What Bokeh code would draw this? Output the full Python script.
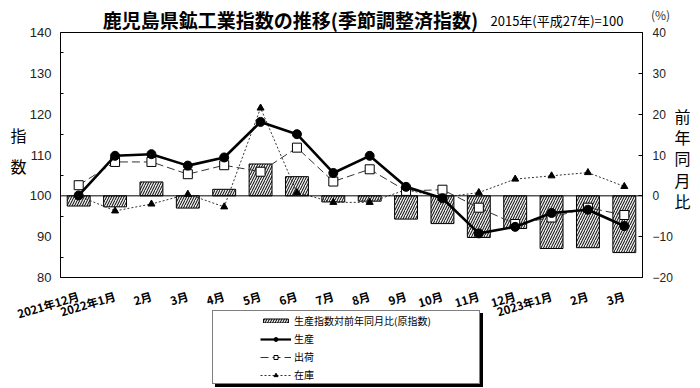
from bokeh.plotting import figure
from bokeh.layouts import column
from bokeh.models import (Range1d, LinearAxis, FixedTicker, Span, Legend,
                          LegendItem, Label)
from bokeh.embed import file_html
from bokeh.resources import INLINE

# ---------------- data ----------------
months = ["2021年12月", "2022年1月", "2月", "3月", "4月", "5月", "6月", "7月",
          "8月", "9月", "10月", "11月", "12月", "2023年1月", "2月", "3月"]
production = [100.1, 109.8, 110.2, 107.4, 109.4, 118.1, 115.1, 105.6,
              109.8, 102.2, 99.4, 90.8, 92.4, 95.8, 96.6, 92.6]
shipments = [102.6, 108.3, 108.3, 105.3, 107.5, 105.9, 111.8, 103.5,
             106.5, 101.2, 101.5, 97.1, 93.1, 94.7, 97.1, 95.3]
inventory = [100.0, 96.3, 98.0, 100.4, 97.3, 121.5, 100.8, 98.4,
             98.4, 101.5, 99.6, 100.8, 104.1, 104.9, 105.7, 102.3]
yoy_change = [-2.5, -2.7, 3.4, -3.0, 1.6, 7.8, 4.7, -1.5,
              -1.3, -5.7, -6.8, -10.2, -8.0, -12.9, -12.7, -13.9]
left_ticks = [80, 90, 100, 110, 120, 130, 140]
left_minor = [85, 95, 105, 115, 125, 135]
right_ticks = [-20, -10, 0, 10, 20, 30, 40]

title_text = "鹿児島県鉱工業指数の推移(季節調整済指数)"
base_text = "2015年(平成27年)=100"
pct_text = "(%)"
left_title = "指\n数"
right_title = "前\n年\n同\n月\n比"
names = ["生産指数対前年同月比(原指数)", "生産", "出荷", "在庫"]

FONT = "Noto Sans CJK JP"
W, H = 700, 388
x = list(range(len(months)))

# ---------------- main chart ----------------
p = figure(width=W, height=H, output_backend="svg", toolbar_location=None,
           x_range=Range1d(-0.5, len(months) - 0.5), y_range=Range1d(80, 140),
           min_border_left=60, min_border_right=58, min_border_top=32,
           min_border_bottom=111)
p.title.visible = False
p.grid.visible = False
p.outline_line_color = "black"
p.outline_line_width = 1

ya = p.yaxis[0]
ya.ticker = FixedTicker(ticks=left_ticks, minor_ticks=left_minor)
ya.major_tick_in = 0
ya.major_tick_out = 0
ya.minor_tick_in = 3
ya.minor_tick_out = 0
ya.major_label_text_font = "Liberation Sans"
ya.major_label_text_font_size = "13px"
ya.major_label_text_color = "#222222"
ya.major_label_standoff = 9
ya.axis_line_color = "black"

p.extra_y_ranges = {"pct": Range1d(-20, 40)}
ra = LinearAxis(y_range_name="pct", ticker=FixedTicker(ticks=right_ticks))
ra.major_tick_in = 4
ra.major_tick_out = 0
ra.minor_tick_in = 0
ra.minor_tick_out = 0
ra.major_label_text_font = "Liberation Sans"
ra.major_label_text_font_size = "12px"
ra.major_label_text_color = "#222222"
ra.major_label_standoff = 10
ra.axis_line_color = "black"
p.add_layout(ra, "right")

xa = p.xaxis[0]
xa.ticker = FixedTicker(ticks=x)
xa.major_label_overrides = {i: m for i, m in zip(x, months)}
xa.major_label_orientation = 0.29
xa.major_tick_in = 0
xa.major_tick_out = 0
xa.minor_tick_in = 0
xa.minor_tick_out = 0
xa.major_label_text_font = FONT
xa.major_label_text_font_size = "11.5px"
xa.major_label_text_font_style = "bold"
xa.major_label_text_color = "black"
xa.major_label_standoff = 18
xa.axis_line_color = "black"

BAR = dict(fill_color="#eeeeee", line_color="black", line_width=1,
           hatch_pattern="/", hatch_color="black", hatch_scale=5,
           hatch_weight=1)
INV_L = dict(line_color="#333333", line_width=1, line_dash="2 2")
INV_M = dict(marker="triangle", size=7, fill_color="black", line_color="black")
SHP_L = dict(line_color="#333333", line_width=1, line_dash="8 4")
SHP_M = dict(marker="square", size=9, fill_color="white", line_color="black",
             line_width=1)
PRD_L = dict(line_color="black", line_width=2.6)
PRD_M = dict(marker="circle", size=9, fill_color="black", line_color="black")

p.vbar(x=x, top=yoy_change, bottom=0, width=0.63, y_range_name="pct", **BAR)
p.add_layout(Span(location=100, dimension="width", line_color="black",
                  line_width=1))
p.line(x, inventory, **INV_L)
p.scatter(x, inventory, **INV_M)
p.line(x, shipments, **SHP_L)
p.scatter(x, shipments, **SHP_M)
p.line(x, production, **PRD_L)
p.scatter(x, production, **PRD_M)

# ---------------- overlay: titles and legend ----------------
q = figure(width=W, height=H, output_backend="svg", toolbar_location=None,
           x_range=Range1d(0, W), y_range=Range1d(0, H),
           x_axis_location=None, y_axis_location=None,
           min_border=0, margin=(-H, 0, 0, 0))
try:
    q.frame_align = False
    p.frame_align = False
except Exception:
    pass
q.title.visible = False
q.grid.visible = False
q.outline_line_color = None
q.background_fill_alpha = 0
q.border_fill_alpha = 0

# legend-only renderers: one undefined (NaN) sample each, nothing is plotted
nan = [float("nan")]
d_box = q.line(nan, nan, line_alpha=0)
d_bar = q.vbar(x=nan, top=nan, width=1, **BAR)
d_prd = [q.line(nan, nan, line_color="black", line_width=2.2),
         q.scatter(nan, nan, **dict(PRD_M, size=4))]
d_shp = [q.line(nan, nan, **SHP_L), q.scatter(nan, nan, **dict(SHP_M, size=6))]
d_inv = [q.line(nan, nan, **INV_L), q.scatter(nan, nan, **dict(INV_M, size=4))]

BOXSIZE = dict(padding=0, margin=0, spacing=0, glyph_width=1,
               glyph_height=72, label_width=265, label_height=72,
               label_standoff=0)
shadow = Legend(items=[LegendItem(label=" ", renderers=[d_box])],
                location=(215, 1), background_fill_color="black",
                background_fill_alpha=1, border_line_color="black",
                **BOXSIZE)
box = Legend(items=[LegendItem(label=" ", renderers=[d_box])],
             location=(212, 4), background_fill_color="white",
             background_fill_alpha=1, border_line_color="black",
             border_line_width=1, **BOXSIZE)
ITEM = dict(padding=0, margin=0, glyph_width=31, label_standoff=3,
            label_text_font=FONT, label_text_font_size="10px",
            label_text_color="black", border_line_alpha=0,
            background_fill_alpha=0)
leg_bar = Legend(items=[LegendItem(label=names[0], renderers=[d_bar])],
                 location=(260, 59), spacing=0, glyph_height=5,
                 label_height=17, **ITEM)
leg_lines = Legend(items=[LegendItem(label=names[1], renderers=d_prd),
                          LegendItem(label=names[2], renderers=d_shp),
                          LegendItem(label=names[3], renderers=d_inv)],
                   location=(260, 5), spacing=1, glyph_height=10,
                   label_height=17, **ITEM)
for lg in (shadow, box, leg_bar, leg_lines):
    q.add_layout(lg)

def put(text, px, py, size, align="center", bold=False, lh=1.2,
        color="black"):
    q.add_layout(Label(x=px, y=H - py, text=text, text_font=FONT,
                       text_font_size=size, text_align=align,
                       text_baseline="middle", text_line_height=lh,
                       text_font_style="bold" if bold else "normal",
                       text_color=color))

put(title_text, 290, 19, "19px", bold=True)
put(base_text, 490, 20, "13px", align="left")
put(pct_text, 660, 14, "12px", color="#333333")
put(left_title, 18, 150, "16px", lh=1.29)
put(right_title, 682, 158, "16px", lh=0.89)

layout = column(p, q, spacing=0)
open("out.html", "w").write(file_html(layout, INLINE))
